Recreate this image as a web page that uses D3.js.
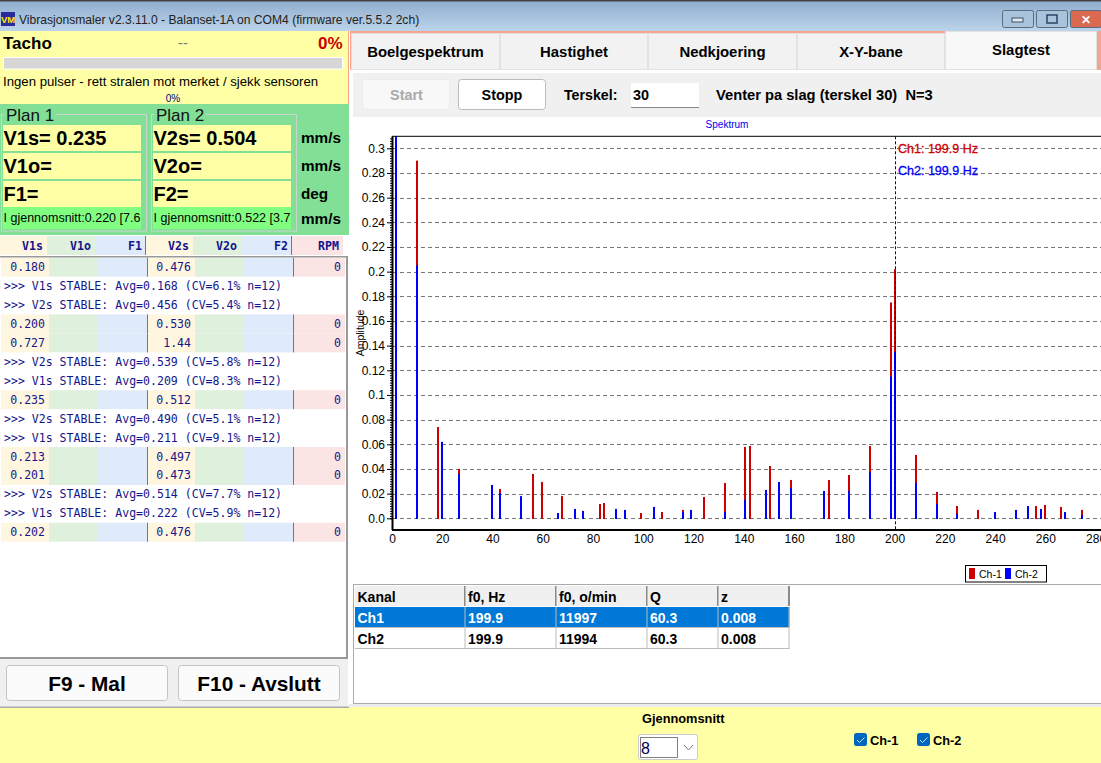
<!DOCTYPE html>
<html lang="no">
<head>
<meta charset="utf-8">
<title>Vibrasjonsmaler</title>
<script src="https://d3js.org/d3.v7.min.js"></script>
<style>
  html, body { margin: 0; padding: 0; background: #fff; overflow: hidden; }
  svg { display: block; font-family: "Liberation Sans", Arial, sans-serif; }
  text { white-space: pre; }
  .mono { font-family: "DejaVu Sans Mono", monospace; font-size: 11.55px; fill: #16168a; }
  .axis path { display: none; }
  .axis text { font-family: "Liberation Sans", Arial, sans-serif; font-size: 12px; fill: #000; }
</style>
</head>
<body>
<svg id="app" width="1101" height="763"></svg>
<script>
// spectrum, peaks (Hz / amplitude)
var ch1Freq = [1.5, 10, 18.3, 26.7, 43, 56.1, 59.7, 67.6, 82.8, 84.4, 99.1, 107.4, 115.8, 124.2, 132.5, 140.5, 142.5, 150.4, 158.8, 173.9, 181.9, 190.2, 198.6, 200.2, 208.5, 216.9, 224.8, 233.2, 256.3, 259.8, 266.2, 274.5];
var ch1Amp = [0.33, 0.29, 0.074, 0.04, 0.0238, 0.036, 0.0295, 0.018, 0.0116, 0.0124, 0.0043, 0.0051, 0.0068, 0.0173, 0.0286, 0.0578, 0.0586, 0.0424, 0.0311, 0.0311, 0.0351, 0.0586, 0.175, 0.202, 0.0514, 0.0214, 0.01, 0.0068, 0.01, 0.0108, 0.0092, 0.0068];
var ch2Freq = [1.5, 10, 19.9, 26.7, 39.8, 43, 51.3, 66, 72.8, 76, 89.1, 92.7, 104.3, 115.8, 119, 132.5, 140.5, 148.8, 154, 158.8, 171.9, 181.9, 190.2, 198.6, 200.2, 208.5, 216.9, 224.8, 240, 248.3, 253.1, 258.3, 267.8, 274.5];
var ch2Amp = [0.34, 0.205, 0.062, 0.036, 0.027, 0.0205, 0.018, 0.0043, 0.0076, 0.006, 0.0076, 0.0068, 0.0092, 0.0051, 0.0068, 0.0051, 0.0149, 0.023, 0.0295, 0.0246, 0.0222, 0.0222, 0.0376, 0.115, 0.135, 0.0286, 0.0116, 0.0035, 0.0051, 0.0068, 0.01, 0.0076, 0.0051, 0.0027];
var cursorFreq = 199.9;
var yTicks = [0, 0.02, 0.04, 0.06, 0.08, 0.1, 0.12, 0.14, 0.16, 0.18, 0.2, 0.22, 0.24, 0.26, 0.28, 0.3];
var xTicks = [0, 20, 40, 60, 80, 100, 120, 140, 160, 180, 200, 220, 240, 260, 280];

// left panel texts
var planNames = ["Plan 1", "Plan 2"];
var planLines = [["V1s= 0.235", "V1o=", "F1="], ["V2s= 0.504", "V2o=", "F2="]];
var planAvg = ["I gjennomsnitt:0.220 [7.6", "I gjennomsnitt:0.522 [3.7"];
var units = ["mm/s", "mm/s", "deg", "mm/s"];
var logHeaders = ["V1s", "V1o", "F1", "V2s", "V2o", "F2", "RPM"];
var logRows = [
  ["0.180", "0.476", "0"],
  ">>> V1s STABLE: Avg=0.168 (CV=6.1% n=12)",
  ">>> V2s STABLE: Avg=0.456 (CV=5.4% n=12)",
  ["0.200", "0.530", "0"],
  ["0.727", "1.44", "0"],
  ">>> V2s STABLE: Avg=0.539 (CV=5.8% n=12)",
  ">>> V1s STABLE: Avg=0.209 (CV=8.3% n=12)",
  ["0.235", "0.512", "0"],
  ">>> V2s STABLE: Avg=0.490 (CV=5.1% n=12)",
  ">>> V1s STABLE: Avg=0.211 (CV=9.1% n=12)",
  ["0.213", "0.497", "0"],
  ["0.201", "0.473", "0"],
  ">>> V2s STABLE: Avg=0.514 (CV=7.7% n=12)",
  ">>> V1s STABLE: Avg=0.222 (CV=5.9% n=12)",
  ["0.202", "0.476", "0"]
];

// right panel texts
var tabNames = ["Boelgespektrum", "Hastighet", "Nedkjoering", "X-Y-bane", "Slagtest"];
var tableHead = ["Kanal", "f0, Hz", "f0, o/min", "Q", "z"];
var tableRows = [["Ch1", "199.9", "11997", "60.3", "0.008"], ["Ch2", "199.9", "11994", "60.3", "0.008"]];

var YELLOW = "#ffffa5", RED = "#cc0000", BLUE = "#0000ff";
var svg = d3.select("#app");

function rect(g, x, y, w, h, fill, stroke, rx) {
  return g.append("rect").attr("x", x).attr("y", y).attr("width", w).attr("height", h)
    .attr("fill", fill || "none").attr("stroke", stroke || "none").attr("rx", rx || 0);
}
function text(g, x, y, s, size, bold, color, anchor) {
  return g.append("text").attr("x", x).attr("y", y).text(s)
    .attr("font-size", size).attr("font-weight", bold ? "bold" : "normal")
    .attr("fill", color || "#000").attr("text-anchor", anchor || "start");
}

/** window title bar */
function drawTitle() {
  var grad = svg.append("defs").append("linearGradient").attr("id", "tb").attr("x2", 0).attr("y2", 1);
  grad.append("stop").attr("offset", 0).attr("stop-color", "#8eaccd");
  grad.append("stop").attr("offset", 1).attr("stop-color", "#bcd4ea");
  rect(svg, 0, 0, 1101, 31, "url(#tb)");
  rect(svg, 0, 0, 1101, 1.5, "#444");
  rect(svg, 1, 12, 14, 14, "#2a2a9a");
  text(svg, 8, 23, "VM", 9.5, true, "#ffe800", "middle");
  text(svg, 19, 24, "Vibrasjonsmaler v2.3.11.0 - Balanset-1A on COM4 (firmware ver.5.5.2 2ch)", 12.1, false, "#222");
  [[1002.5, "#a9c3dd"], [1036.5, "#a9c3dd"], [1070.5, "#d9694f"]].forEach(function(b) {
    rect(svg, b[0], 10.5, 31, 17, b[1], "#5a6d80", 2);
  });
  rect(svg, 1012, 18, 11, 4, "#dfe8f2", "#3c5068");
  rect(svg, 1047, 15, 10, 8, "none", "#2c4460").attr("stroke-width", 1.5);
  text(svg, 1086, 24, "✕", 12, true, "#fff", "middle");
}

/** tacho and plan boxes */
function drawLeftTop() {
  rect(svg, 0, 31, 349, 73, YELLOW);
  rect(svg, 348, 31, 1, 73, "#f4a58a");
  text(svg, 3, 48.5, "Tacho", 17, true);
  text(svg, 183, 48, "--", 15, false, "#777", "middle");
  text(svg, 342.5, 49, "0%", 17, true, RED, "end");
  rect(svg, 3.5, 57.5, 339, 11.5, "#d6d6d6", "#fff");
  text(svg, 3, 86, "Ingen pulser - rett stralen mot merket / sjekk sensoren", 13.2);
  text(svg, 173, 102, "0%", 10, false, "#000080", "middle");

  rect(svg, 0, 104, 349, 131, "#82e096");
  planNames.forEach(function(name, p) {
    var x0 = p * 150;
    rect(svg, x0 + 1.5, 114.5, 145, 116.5, "none", "#c9d6cc");
    rect(svg, x0 + 4, 110, 52, 10, "#82e096");
    text(svg, x0 + 6, 121, name, 17, false, "#111");
    planLines[p].forEach(function(line, i) {
      rect(svg, x0 + 3, 125 + i * 28, 138, 26, YELLOW);
      text(svg, x0 + 3.5, 144.5 + i * 28, line, 20, true);
    });
    rect(svg, x0 + 3, 207, 138, 22, "#80ff80");
    text(svg, x0 + 3.5, 222, planAvg[p], 12.5);
  });
  units.forEach(function(u, i) {
    text(svg, 301, 143 + i * 28 - (i == 3 ? 3 : 0), u, 15.3, true);
  });
}

/** the log list with coloured columns */
function drawLog() {
  var colFill = ["#fff6e0", "#dff0dc", "#dfeafa", "#fff6e0", "#dff0dc", "#dfeafa", "#fae4e4"];
  var headX = [0, 47, 95, 146, 193, 241, 292, 343];
  rect(svg, 0, 235, 349, 22, "#fff");
  logHeaders.forEach(function(h, i) {
    rect(svg, headX[i], 236, headX[i + 1] - headX[i], 19, colFill[i]);
    text(svg, headX[i + 1] - 4, 250, h, 11.6, true, "#14148c", "end").attr("font-family", "DejaVu Sans Mono");
  });
  rect(svg, 145, 236, 1, 19, "#777");
  rect(svg, 291, 236, 1, 19, "#777");

  var rowY = d3.scaleLinear().domain([0, 15]).range([257.7, 541.7]);
  var cellX = [1, 49, 97, 148, 195, 243, 294, 345];
  var g = svg.append("g");
  logRows.forEach(function(row, i) {
    var y = rowY(i), h = rowY(i + 1) - y;
    if (typeof row == "string") {
      g.append("text").attr("class", "mono").attr("x", 4).attr("y", y + 13.5).text(row);
      return;
    }
    colFill.forEach(function(c, k) {
      rect(g, cellX[k], y, cellX[k + 1] - cellX[k], h, c);
    });
    rect(g, 147, y, 1, h, "#777");
    rect(g, 293, y, 1, h, "#777");
    [[45, row[0]], [191, row[1]], [341, row[2]]].forEach(function(d) {
      g.append("text").attr("class", "mono").attr("x", d[0]).attr("y", y + 13.5).attr("text-anchor", "end").text(d[1]);
    });
  });
  rect(svg, 346, 256, 2, 402, "#999");
  rect(svg, 0, 256, 348, 1.5, "#999");
  rect(svg, 0, 657, 348, 2, "#999");

  rect(svg, 0, 659, 348, 48, "#f0f0f0");
  rect(svg, 0, 706.5, 349, 1.5, "#aaa");
  [[6.5, "F9 - Mal"], [178.5, "F10 - Avslutt"]].forEach(function(b) {
    rect(svg, b[0], 665.5, 161, 35, "#fbfbfb", "#c4c4c4", 3);
    text(svg, b[0] + 80.5, 690.5, b[1], 20.8, true, "#000", "middle");
  });
}

/** tabs and the start / stop row */
function drawRightTop() {
  rect(svg, 349, 31, 752, 677, "#fff");
  rect(svg, 350, 31, 595, 2, "#f4a58a");
  rect(svg, 350, 31, 1.5, 39, "#f4a58a");
  rect(svg, 1097, 31, 4, 39, "#eda88f");
  var edges = [351, 500, 648, 797, 945, 1097];
  tabNames.forEach(function(t, i) {
    var last = i == tabNames.length - 1;
    rect(svg, edges[i] + 0.5, last ? 31.5 : 33.5, edges[i + 1] - edges[i] - 1, last ? 38 : 36, last ? "#f8f8f8" : "#f2f2f2", "#e2e2e2");
    text(svg, (edges[i] + edges[i + 1]) / 2 - (i == 0 ? 0 : 0), last ? 55 : 57, t, 14.9, true, "#000", "middle");
  });
  rect(svg, 353, 73, 748, 44, "#f0f0f0");
  rect(svg, 362.5, 79.5, 87, 30, "#f8f8f8", "#ececec", 3);
  text(svg, 406.5, 100, "Start", 14.4, true, "#aaa", "middle");
  rect(svg, 458.5, 79.5, 87, 30, "#fff", "#bbb", 3);
  text(svg, 502, 100, "Stopp", 14.4, true, "#000", "middle");
  text(svg, 564, 100, "Terskel:", 14.2, true);
  rect(svg, 631, 83, 68, 25, "#fff");
  rect(svg, 631, 107, 68, 1, "#888");
  text(svg, 633, 100, "30", 14.4, true);
  text(svg, 716, 100, "Venter pa slag (terskel 30)  N=3", 14.7, true);
}

/** the spectrum itself */
function drawChart() {
  var x = d3.scaleLinear().domain([0, 280]).range([392, 1095.6]);
  var y = d3.scaleLinear().domain([0, 0.3]).range([518.3, 148.3]);
  var top = 136.3, bottom = 530;

  text(svg, 727, 128, "Spektrum", 10, false, "#0000ee", "middle");

  svg.append("clipPath").attr("id", "plot").append("rect")
    .attr("x", 392).attr("y", top).attr("width", 709).attr("height", bottom - top);

  var grid = svg.append("g").attr("fill", "none");
  grid.selectAll("line").data(yTicks).enter().append("line")
    .attr("x1", 393).attr("x2", 1101)
    .attr("y1", function(d) { return Math.round(y(d)) + 0.5; })
    .attr("y2", function(d) { return Math.round(y(d)) + 0.5; })
    .attr("stroke", "#777").attr("stroke-dasharray", "4,3");

  function bars(cls, fr, amp, color) {
    svg.append("g").attr("clip-path", "url(#plot)").selectAll("rect." + cls)
      .data(fr).enter().append("rect").attr("class", cls)
      .attr("x", function(d) { return Math.round(x(d)) - 1; })
      .attr("width", 2)
      .attr("y", function(d, i) { return y(amp[i]); })
      .attr("height", function(d, i) { return y(0) - y(amp[i]) + 0.7; })
      .attr("fill", color);
  }
  bars("ch1", ch1Freq, ch1Amp, RED);
  bars("ch2", ch2Freq, ch2Amp, BLUE);

  // minor ticks make the dotted look of the left axis
  var minor = d3.range(0, 155).map(function(i) { return i * 0.002; });
  svg.append("g").attr("class", "axis").attr("transform", "translate(392,0)")
    .call(d3.axisLeft(y).tickValues(minor).tickSize(2).tickFormat(""));
  svg.append("g").attr("class", "axis").attr("transform", "translate(392,0)")
    .call(d3.axisLeft(y).tickValues(yTicks).tickSize(5).tickPadding(2)
      .tickFormat(function(d) { return d == 0 ? "0.0" : String(+d.toFixed(2)); }));
  svg.append("g").attr("class", "axis").attr("transform", "translate(0," + bottom + ")")
    .call(d3.axisBottom(x).tickValues(xTicks).tickSize(0).tickPadding(4).tickFormat(d3.format("d")));

  svg.append("line").attr("x1", 392.5).attr("x2", 392.5).attr("y1", top).attr("y2", bottom).attr("stroke", "#000").attr("stroke-width", 2);
  svg.append("line").attr("x1", 392).attr("x2", 1101).attr("y1", top).attr("y2", top).attr("stroke", "#000");
  svg.append("line").attr("x1", 392).attr("x2", 1101).attr("y1", bottom).attr("y2", bottom).attr("stroke", "#000").attr("stroke-width", 2);

  var cx = Math.ceil(x(cursorFreq)) + 0.5;
  svg.append("line").attr("x1", cx).attr("x2", cx).attr("y1", top).attr("y2", bottom)
    .attr("stroke", "#00008b").attr("stroke-dasharray", "3,2");
  text(svg, 898, 153, "Ch1: 199.9 Hz", 12.5, false, RED).attr("stroke", RED).attr("stroke-width", 0.3);
  text(svg, 898, 175, "Ch2: 199.9 Hz", 12.5, false, BLUE).attr("stroke", BLUE).attr("stroke-width", 0.3);

  text(svg, 0, 0, "Amplitude", 10.5, false, "#000", "middle").attr("transform", "translate(364,333) rotate(-90)");

  rect(svg, 965.5, 565.5, 81, 16.5, "#fff", "#000");
  rect(svg, 969, 568, 6, 11, RED);
  text(svg, 979, 578, "Ch-1", 10.5);
  rect(svg, 1005, 568, 6, 11, BLUE);
  text(svg, 1015, 578, "Ch-2", 10.5);
}

/** resonance table under the chart */
function drawTable() {
  rect(svg, 353.5, 584.5, 760, 119, "#fff", "#aaa");
  var cols = [355, 465.5, 556.5, 647.5, 718.5, 789.5];
  tableHead.forEach(function(h, i) {
    rect(svg, cols[i], 586, cols[i + 1] - cols[i], 20, "#f0f0f0");
    rect(svg, cols[i + 1] - 1, 586, 1, 20, "#222");
    text(svg, cols[i] + 2.5, 601.5, h, 14, true);
  });
  tableRows.forEach(function(row, r) {
    var ry = 607 + r * 21, sel = r == 0;
    if (sel) rect(svg, cols[0], ry, cols[5] - cols[0], 20, "#0078d7");
    rect(svg, cols[0], ry + 20, cols[5] - cols[0], 1, "#bbb");
    row.forEach(function(c, i) {
      rect(svg, cols[i + 1] - 1, ry, 1, 21, "#bbb");
      text(svg, cols[i] + 2.5, ry + 15.5, c, 14, true, sel ? "#fff" : "#000");
    });
  });
}

/** yellow strip at the bottom */
function drawBottom() {
  rect(svg, 349, 704, 752, 3, "#ececec");
  rect(svg, 0, 708, 1101, 55, YELLOW);
  rect(svg, 349, 707, 752, 56, YELLOW);
  text(svg, 642, 723, "Gjennomsnitt", 12.8, true);
  rect(svg, 638.5, 734.5, 59, 25, "#fff", "#ccc", 2);
  rect(svg, 640.5, 737.5, 37, 20, "none", "#000").attr("stroke-dasharray", "1,1");
  text(svg, 641, 754, "8", 16, false, "#000050");
  svg.append("path").attr("d", "M684 745 L688.5 750 L693 745").attr("fill", "none").attr("stroke", "#777");
  [[854, "Ch-1"], [917, "Ch-2"]].forEach(function(c) {
    rect(svg, c[0], 733, 13, 13, "#0067c0", "none", 2.5);
    svg.append("path").attr("d", "M" + (c[0] + 3) + " 740 l2.5 2.5 l5 -5").attr("fill", "none").attr("stroke", "#cfe4fa");
    text(svg, c[0] + 16, 745, c[1], 12.8, true);
  });
}

drawTitle();
drawLeftTop();
drawLog();
drawRightTop();
drawChart();
drawTable();
drawBottom();
</script>
</body>
</html>
